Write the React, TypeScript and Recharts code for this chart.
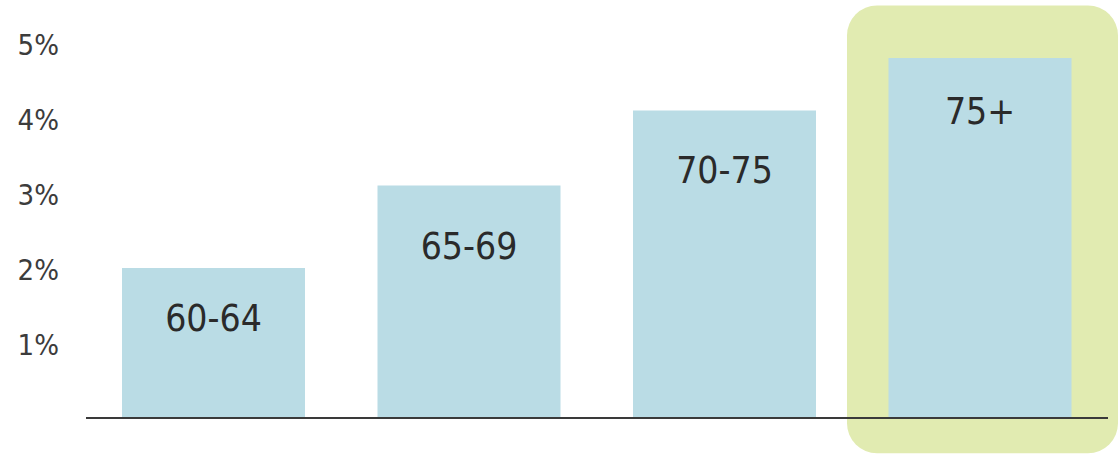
import React from 'react';
import { BarChart, Bar, XAxis, YAxis, ReferenceArea, LabelList } from 'recharts';

// Share per age bracket, in percent
const categories = ['60-64', '65-69', '70-75', '75+'];
const shares = [2.0, 3.1, 4.1, 4.8];
const yTicks = [1, 2, 3, 4, 5];
const highlighted = '75+';

const data = categories.map((name, i) => ({ name, share: shares[i] }));

const BAR_COLOR = '#badce5';
const HIGHLIGHT_COLOR = '#e1ebb1';
const TEXT_COLOR = '#2a2a2a';
const FONT = '"DejaVu Sans Condensed", "DejaVu Sans", sans-serif';

// how far below each bar top the bracket name sits (to its cap centre)
const labelDrop = [50, 60, 59, 53];

const renderLabel = (props: any) => {
    const { x, y, width, value, index } = props;
    const cy = y + labelDrop[index] + 13;
    return (
        <text x={x + width / 2} y={cy} textAnchor="middle" fill={TEXT_COLOR}
            fontFamily={FONT} fontSize={37} fontWeight={300}>
            {value}
        </text>
    );
};

const HighlightShape = (props: any) => {
    const { x, y, width, height } = props;
    return (
        <rect x={x - 5.5} y={y} width={width + 15.5} height={height}
            rx={30} ry={30} fill={HIGHLIGHT_COLOR} />
    );
};

const App = () => {
    return (
        <div style={{ position: 'absolute', left: 0, top: 0, background: '#fff' }}>
            <BarChart width={1119} height={455} data={data}
                margin={{ top: 43, right: 11, bottom: 36, left: 0 }}>
                <ReferenceArea x1={highlighted} x2={highlighted} y1={-0.47} y2={5.5}
                    ifOverflow="visible" shape={<HighlightShape />} />
                <YAxis domain={[0, 5]} ticks={yTicks} width={86}
                    axisLine={false} tickLine={false} tickSize={0} tickMargin={27}
                    tickFormatter={(v: number) => `${v}%`}
                    tick={{ fill: '#3c3c3c', fontSize: 29, fontFamily: FONT, dy: 2 }} />
                <Bar dataKey="share" fill={BAR_COLOR} barSize={183} isAnimationActive={false}>
                    <LabelList dataKey="name" content={renderLabel} />
                </Bar>
                <XAxis dataKey="name" tick={false} tickLine={false} height={1}
                    axisLine={{ stroke: '#3a3a3a', strokeWidth: 2 }} />
            </BarChart>
        </div>
    );
};

export default App;
